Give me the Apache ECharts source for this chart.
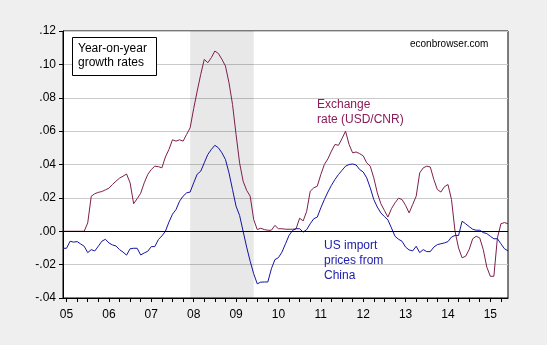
<!DOCTYPE html>
<html>
<head>
<meta charset="utf-8">
<script src="https://cdn.jsdelivr.net/npm/echarts@6/dist/echarts.min.js"></script>
<style>
html,body{margin:0;padding:0;background:#efefef;}
#chart{width:547px;height:345px;}
</style>
</head>
<body>
<div id="chart"></div>
<script>
// Monthly observations, 2004-12 through 2015-06
const startYear = 2004, startMonth = 12, nObs = 127;
const months = [];
for (let i = 0; i < nObs; i++) {
  const t = (startYear * 12 + startMonth - 1) + i;
  const y = Math.floor(t / 12), m = t % 12 + 1;
  months.push(y + '-' + (m < 10 ? '0' + m : m));
}

// Year-on-year growth, exchange rate (USD/CNR)
const exchangeRate = [
  0, 0, 0, 0, 0, 0, 0,
  0.005, 0.021, 0.0225, 0.0233, 0.0238, 0.0248,
  0.0258, 0.028, 0.030, 0.0318, 0.033, 0.0343, 0.029, 0.0165, 0.0195, 0.0228, 0.029, 0.034,
  0.037, 0.039, 0.0387, 0.038, 0.0445, 0.049, 0.0548, 0.054, 0.0548, 0.054, 0.058, 0.062,
  0.0735, 0.084, 0.094, 0.103, 0.101, 0.104, 0.108, 0.1065, 0.103, 0.099, 0.089, 0.076,
  0.058, 0.041, 0.030, 0.0245, 0.021, 0.007, 0.001, 0.0018, 0.001, 0.0006, 0.0006, 0.0035,
  0.0015, 0.0015, 0.0012, 0.0012, 0.0012, 0.0015, 0.0078, 0.0062, 0.012, 0.024, 0.026, 0.027,
  0.034, 0.040, 0.0434, 0.048, 0.052, 0.0515, 0.0555, 0.060, 0.052, 0.047, 0.0475, 0.0465,
  0.0452, 0.041, 0.039, 0.032, 0.023, 0.0165, 0.0125, 0.0085, 0.0135, 0.017, 0.0198, 0.019,
  0.0155, 0.011, 0.016, 0.021, 0.035, 0.038, 0.039, 0.0385, 0.031, 0.025, 0.0235, 0.0267,
  0.028, 0.019, 0.000, -0.010, -0.0159, -0.015, -0.011, -0.0045, -0.003, -0.004, -0.011, -0.0215,
  -0.027, -0.027, -0.004, 0.0045, 0.0052, 0.0045
];

// Year-on-year growth, US import prices from China
const importPrices = [
  -0.0102,
  -0.0102, -0.006, -0.0065, -0.0062, -0.0076, -0.009, -0.0128, -0.011, -0.0118, -0.009, -0.006, -0.0048,
  -0.007, -0.0082, -0.0088, -0.011, -0.0125, -0.0143, -0.0105, -0.0102, -0.0102, -0.0142, -0.013, -0.012,
  -0.0092, -0.0092, -0.005, -0.0028, 0.0, 0.0055, 0.0102, 0.013, 0.018, 0.021, 0.023, 0.0235,
  0.029, 0.0342, 0.036, 0.041, 0.046, 0.049, 0.0515, 0.050, 0.047, 0.043, 0.035, 0.025,
  0.015, 0.0095, 0.0, -0.0095, -0.018, -0.0255, -0.0315, -0.0305, -0.0304, -0.0304, -0.0225, -0.017,
  -0.0158, -0.0125, -0.0075, -0.0025, 0.0005, 0.0015, 0.0015, -0.0005, 0.001, 0.0045, 0.0075, 0.0085,
  0.014, 0.019, 0.0235, 0.0275, 0.031, 0.034, 0.0365, 0.039, 0.040, 0.0403, 0.0397, 0.037,
  0.0355, 0.032, 0.026, 0.019, 0.0145, 0.011, 0.0088, 0.0068, 0.002, -0.003, -0.0048, -0.006,
  -0.0095, -0.0112, -0.0118, -0.009, -0.0128, -0.011, -0.0122, -0.0122, -0.0095, -0.008, -0.0075, -0.007,
  -0.0062, -0.0035, -0.0025, -0.0025, 0.006, 0.0045, 0.0028, 0.0012, 0.0006, 0.0006, -0.0008, -0.0014,
  -0.003, -0.0045, -0.0045, -0.0075, -0.0105, -0.0117
];

// Recession shading (NBER)
const recessionStart = '2007-12', recessionEnd = '2009-06';

// Axis settings
const yMin = -0.04, yMax = 0.12, yStep = 0.02;

const font = '"Liberation Sans", Arial, sans-serif';
const redColor = '#7e1f4c';
const blueColor = '#1414a0';

const chart = echarts.init(document.getElementById('chart'), null, {renderer: 'canvas'});
chart.setOption({
  backgroundColor: '#efefef',
  animation: false,
  grid: {
    left: 63, top: 31, right: 39, bottom: 47,
    show: true, backgroundColor: '#ffffff', borderColor: '#000000', borderWidth: 1
  },
  xAxis: {
    type: 'category',
    data: months,
    boundaryGap: false,
    axisLine: {show: true, onZero: false, lineStyle: {color: '#000', width: 1}},
    axisTick: {
      show: true, inside: false, length: 4,
      lineStyle: {color: '#000'},
      interval: function (idx, val) { const m = +val.slice(5); return m === 1 || m === 4 || m === 7 || m === 10; }
    },
    axisLabel: {
      interval: function (idx, val) { return val.slice(5) === '01'; },
      formatter: function (val) { return val.slice(2, 4); },
      color: '#000', fontFamily: font, fontSize: 12, margin: 11
    },
    splitLine: {show: false}
  },
  yAxis: {
    type: 'value',
    min: yMin, max: yMax, interval: yStep,
    axisLine: {show: true, lineStyle: {color: '#000', width: 1}},
    axisTick: {show: true, inside: false, length: 4, lineStyle: {color: '#000'}},
    axisLabel: {
      color: '#000', fontFamily: font, fontSize: 12, margin: 7,
      formatter: function (v) { return v.toFixed(2).replace('0.', '.'); }
    },
    splitLine: {show: true, lineStyle: {color: '#cacaca', width: 1}}
  },
  series: [
    {
      name: 'Exchange rate (USD/CNR)',
      type: 'line',
      data: exchangeRate,
      showSymbol: false,
      lineStyle: {color: redColor, width: 1},
      itemStyle: {color: redColor},
      markArea: {
        silent: true,
        itemStyle: {color: 'rgba(0,0,0,0.09)'},
        data: [[{xAxis: recessionStart}, {xAxis: recessionEnd}]]
      },
      z: 3
    },
    {
      name: 'US import prices from China',
      type: 'line',
      data: importPrices,
      showSymbol: false,
      lineStyle: {color: blueColor, width: 1},
      itemStyle: {color: blueColor},
      markLine: {
        silent: true, symbol: 'none', label: {show: false},
        lineStyle: {color: '#000', width: 1, type: 'solid'},
        data: [{yAxis: 0}]
      },
      z: 4
    }
  ],
  graphic: [
    {
      type: 'rect', left: 72, top: 37,
      shape: {width: 84, height: 38},
      style: {fill: '#ffffff', stroke: '#000', lineWidth: 1}, z: 10
    },
    {
      type: 'text', left: 78, top: 42,
      style: {text: 'Year-on-year\ngrowth rates', fill: '#000', font: '12px ' + font, lineHeight: 14}, z: 11
    },
    {
      type: 'text', left: 410, top: 39,
      style: {text: 'econbrowser.com', fill: '#000', font: '10px ' + font}, z: 11
    },
    {
      type: 'text', left: 317, top: 97,
      style: {text: 'Exchange\nrate (USD/CNR)', fill: '#8a1c57', font: '12px ' + font, lineHeight: 15}, z: 11
    },
    {
      type: 'text', left: 324, top: 238,
      style: {text: 'US import\nprices from\nChina', fill: '#2020b0', font: '12px ' + font, lineHeight: 15}, z: 11
    }
  ]
});
</script>
</body>
</html>
